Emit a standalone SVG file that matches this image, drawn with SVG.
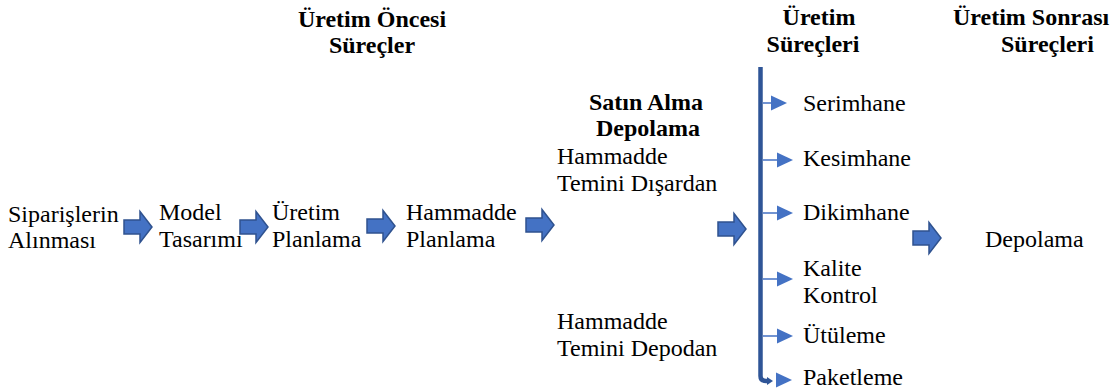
<svg xmlns="http://www.w3.org/2000/svg" width="1115" height="391" viewBox="0 0 1115 391">
<style>
text{font-family:'Liberation Serif','DejaVu Serif',serif;font-size:24px;fill:#000}
.b{font-weight:bold}
.m{text-anchor:middle}
.blk{fill:#4472C4;stroke:#2F528F;stroke-width:1.5}
.br{stroke:#4472C4;stroke-width:1.5;fill:none}
.hd{fill:#4472C4}
</style>
<defs>
<path id="ba" d="M0,-7 H16 V-15.5 L28,0 L16,15.5 V7 H0 Z"/>
<path id="th" d="M0,-7.5 L16,0 L0,7.5 Z"/>
</defs>
<g id="h-oncesi"><text class="b m" x="372" y="27">Üretim Öncesi</text><text class="b m" x="372" y="53">Süreçler</text></g>
<g id="h-uretim"><text class="b m" x="819" y="25">Üretim</text><text class="b m" x="813" y="52">Süreçleri</text></g>
<g id="h-sonrasi"><text class="b" x="953" y="25">Üretim Sonrası</text><text class="b" x="1001" y="52">Süreçleri</text></g>
<g id="n1"><text x="8" y="222">Siparişlerin</text><text x="8" y="248">Alınması</text></g>
<g id="n2"><text x="159" y="220">Model</text><text x="159" y="247">Tasarımı</text></g>
<g id="n3"><text x="272" y="220">Üretim</text><text x="272" y="247">Planlama</text></g>
<g id="n4"><text x="406" y="220">Hammadde</text><text x="406" y="247">Planlama</text></g>
<g id="n5"><text class="b m" x="646" y="110">Satın Alma</text><text class="b m" x="648" y="136">Depolama</text></g>
<g id="n6"><text x="557" y="164">Hammadde</text><text x="557" y="191">Temini Dışardan</text></g>
<g id="n7"><text x="557" y="329">Hammadde</text><text x="557" y="356">Temini Depodan</text></g>
<g id="p1"><text x="803" y="111">Serimhane</text></g>
<g id="p2"><text x="803" y="166">Kesimhane</text></g>
<g id="p3"><text x="803" y="220">Dikimhane</text></g>
<g id="p4"><text x="803" y="276">Kalite</text><text x="803" y="303">Kontrol</text></g>
<g id="p5"><text x="803" y="343">Ütüleme</text></g>
<g id="p6"><text x="803" y="385">Paketleme</text></g>
<g id="n8"><text x="985" y="247">Depolama</text></g>
<g id="connectors">
<use href="#ba" class="blk" transform="translate(124,227)"/>
<use href="#ba" class="blk" transform="translate(240,227)"/>
<use href="#ba" class="blk" transform="translate(367,226)"/>
<use href="#ba" class="blk" transform="translate(526,225)"/>
<use href="#ba" class="blk" transform="translate(718,229)"/>
<use href="#ba" class="blk" transform="translate(913,238)"/>
<path d="M760.5,67 V376 Q760.5,381 766,381 H768" fill="none" stroke="#2F5597" stroke-width="4.5"/>
<path d="M767,377 L773,381 L767,385 Z" fill="#2F5597"/>
<path class="br" d="M763,103 H772 M763,160 H778 M763,213 H778 M763,279 H778 M763,336 H778"/>
<use href="#th" class="hd" transform="translate(771,103)"/>
<use href="#th" class="hd" transform="translate(777,160)"/>
<use href="#th" class="hd" transform="translate(777,213)"/>
<use href="#th" class="hd" transform="translate(777,279)"/>
<use href="#th" class="hd" transform="translate(777,336)"/>
<use href="#th" class="hd" transform="translate(776,380)"/>
</g>
</svg>
